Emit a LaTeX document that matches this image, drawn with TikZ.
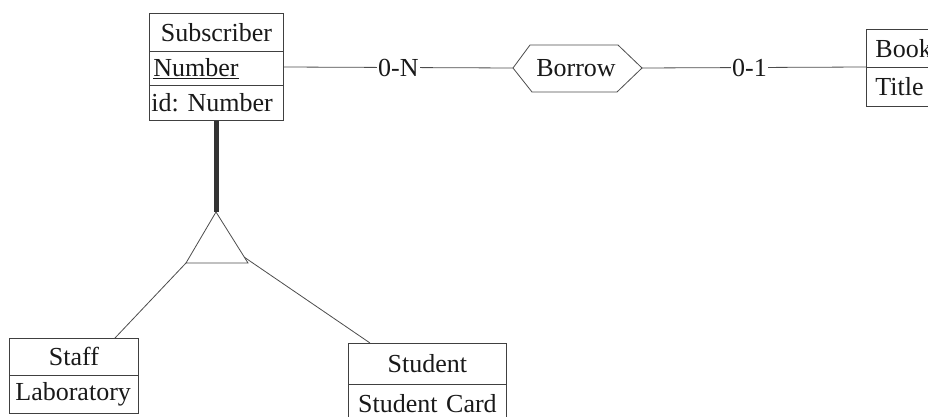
\documentclass[tikz,border=0pt]{standalone}
\usepackage{fontspec}
\setmainfont{Liberation Serif}
\frenchspacing
\begin{document}
\begin{tikzpicture}[x=1pt,y=-1pt,
  font=\fontsize{26}{29}\selectfont,
  every node/.style={text=black!90},
  field/.style={draw=black!75, line width=0.8pt, anchor=north west,
    minimum height=38pt, inner xsep=6pt, inner ysep=0pt, align=left},
  cfield/.style={field, align=center},
  link/.style={draw=black!70, line width=0.8pt},
  card/.style={fill=white, inner sep=1pt}]
\useasboundingbox (0,0) rectangle (928,417);
\clip (0,0) rectangle (928,417);

% Subscriber entity
\node[cfield, minimum height=38pt, text width=122pt] (subA) at (149,13) {Subscriber};
\node[field, minimum height=34pt, text width=126pt, inner xsep=4pt] (subB) at (149,51) {\underline{Number}};
\node[field, minimum height=35pt, text width=130pt, inner xsep=2pt] (subC) at (149,85) {id: Number};

% Book entity (runs past the right edge)
\node[field, text width=100pt, inner xsep=9pt] (bookA) at (866,29) {Book};
\node[field, minimum height=39pt, text width=100pt, inner xsep=9pt] (bookB) at (866,67) {Title};

% Borrow relationship (hexagon)
\coordinate (bl) at (513,68);
\coordinate (br) at (642,68);
\draw[link] (bl) -- (530,45) -- (618,45) -- (br) -- (617,92) -- (532,92) -- cycle;
\node (borrow) at (576,68) {Borrow};

% Roles of the relationship
\coordinate (subR) at (subB.east |- 0,67);
\coordinate (bookL) at (bookB.north west);
\draw[link] (subR) -- (bl) node[card, pos=0.5] {0-N};
\draw[link] (br) -- (bookL) node[card, pos=0.48] {0-1};

% IS-A hierarchy
\coordinate (apex) at (216,212);
\coordinate (tl) at (186,263);
\coordinate (tr) at (248,263);
\coordinate (tside) at (244,257);
\draw[link] (apex) -- (tl) -- (tr) -- cycle;
\draw[black!80, line width=5pt] (subC.south -| apex) -- (apex);

% Staff entity
\node[cfield, minimum height=37pt, text width=117pt] (staffA) at (9,338) {Staff};
\node[field, text width=117pt] (staffB) at (9,375) {Laboratory};

% Student entity
\node[cfield, minimum height=41pt, text width=146pt] (studA) at (348,343) {Student};
\node[cfield, text width=146pt] (studB) at (348,384) {Student Card};

\draw[link] (tl) -- (staffA.north -| 115,0);
\draw[link] (tside) -- (studA.north -| 370,0);
\end{tikzpicture}
\end{document}
